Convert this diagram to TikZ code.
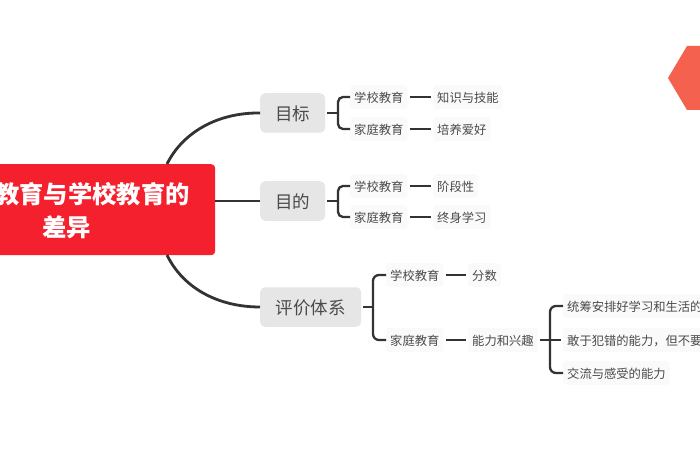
\documentclass[tikz,border=0pt]{standalone}
\usepackage{fontspec}
\setmainfont{Noto Sans CJK SC}
\newfontfamily\cjkbold[BoldFont={Noto Sans CJK SC Bold}]{Noto Sans CJK SC}
\definecolor{inkc}{HTML}{333333}
\definecolor{txtc}{HTML}{4A4A4A}
\definecolor{grayc}{HTML}{E6E6E6}
\definecolor{pale}{HTML}{FAFAFA}
\definecolor{redc}{HTML}{F5202E}
\definecolor{hexc}{HTML}{F4624F}
\tikzset{
  x=1pt,y=-1pt,
  rootbox/.style={fill=redc,rounded corners=4pt,inner sep=0pt,anchor=north west,minimum width=225pt,minimum height=91pt},
  roottext/.style={text=white,font=\fontsize{24.3}{26}\selectfont\bfseries,inner sep=0pt,anchor=west},
  topicbox/.style={fill=grayc,rounded corners=5pt,text=txtc,font=\fontsize{17.5}{20}\selectfont,inner sep=0pt,minimum height=39.5pt,anchor=west,text height=15pt,text depth=0.7pt},
  leafbox/.style={fill=pale,rounded corners=3pt,text=txtc,font=\fontsize{12.3}{15}\selectfont,inner xsep=4pt,inner ysep=6pt,anchor=west,text height=11.4pt,text depth=0.4pt},
  thick link/.style={draw=inkc,line width=2.8pt},
  link/.style={draw=inkc,line width=2.3pt},
  gap link/.style={link,shorten >=2pt,shorten <=2pt},
}
\begin{document}
\begin{tikzpicture}
\useasboundingbox (0,0) rectangle (700,470);
\fill[white] (0,0) rectangle (700,470);
% hexagon
\fill[hexc] (668,78) -- (687,46) -- (720,46) -- (720,110) -- (687,110) -- cycle;
% root
\node[rootbox] (root) at (-10,164) {};
\node[roottext] (rootA) at (-5,194.5) {教育与学校教育的};
\node[roottext] (rootB) at (42,227.5) {差异};
\coordinate (rootT) at (167,164);
\coordinate (rootB2) at (167,255);
% topics
\node[topicbox,minimum width=65pt] (t1) at (260,113) {目标};
\node[topicbox,minimum width=65pt] (t2) at (260,201) {目的};
\node[topicbox,minimum width=101pt] (t3) at (260,307) {评价体系};
% leaves
\node[leafbox] (a1) at (350,97) {学校教育};
\node[leafbox] (a2) at (350,129) {家庭教育};
\node[leafbox] (a3) at (433,97) {知识与技能};
\node[leafbox] (a4) at (433,129) {培养爱好};
\node[leafbox] (b1) at (350,186) {学校教育};
\node[leafbox] (b2) at (350,217) {家庭教育};
\node[leafbox] (b3) at (433,186) {阶段性};
\node[leafbox] (b4) at (433,217) {终身学习};
\node[leafbox] (c1) at (386,275) {学校教育};
\node[leafbox] (c2) at (386,340) {家庭教育};
\node[leafbox] (c3) at (468,275) {分数};
\node[leafbox] (c4) at (468,340) {能力和兴趣};
\node[leafbox] (d1) at (563,306) {统筹安排好学习和生活的};
\node[leafbox] (d2) at (563,340) {敢于犯错的能力，但不要};
\node[leafbox] (d3) at (563,373) {交流与感受的能力};
% main branches
\draw[thick link] (rootT) .. controls (183,132) and (218,112.5) .. (t1.west);
\draw[thick link] (root.east |- t2.west) -- (t2.west);
\draw[thick link] (rootB2) .. controls (183,288) and (218,307) .. (t3.west);
% brackets
\draw[link,rounded corners=5pt] (a1.west) -- (338,97) -- (338,129) -- (a2.west);
\draw[link] (t1.east) ++(2,0) -- (338,113);
\draw[link,rounded corners=5pt] (b1.west) -- (338,186) -- (338,217) -- (b2.west);
\draw[link] (t2.east) ++(2,0) -- (338,201);
\draw[link,rounded corners=6pt] (c1.west) -- (373,275) -- (373,340) -- (c2.west);
\draw[link] (t3.east) ++(2,0) -- (373,307);
\draw[link,rounded corners=6pt] (d1.west) -- (550,306) -- (550,373) -- (d3.west);
\draw[gap link] (c4.east) -- (d2.west);
% straight links
\draw[gap link] (a1.east) -- (a3.west);
\draw[gap link] (a2.east) -- (a4.west);
\draw[gap link] (b1.east) -- (b3.west);
\draw[gap link] (b2.east) -- (b4.west);
\draw[gap link] (c1.east) -- (c3.west);
\draw[gap link] (c2.east) -- (c4.west);
\end{tikzpicture}
\end{document}
